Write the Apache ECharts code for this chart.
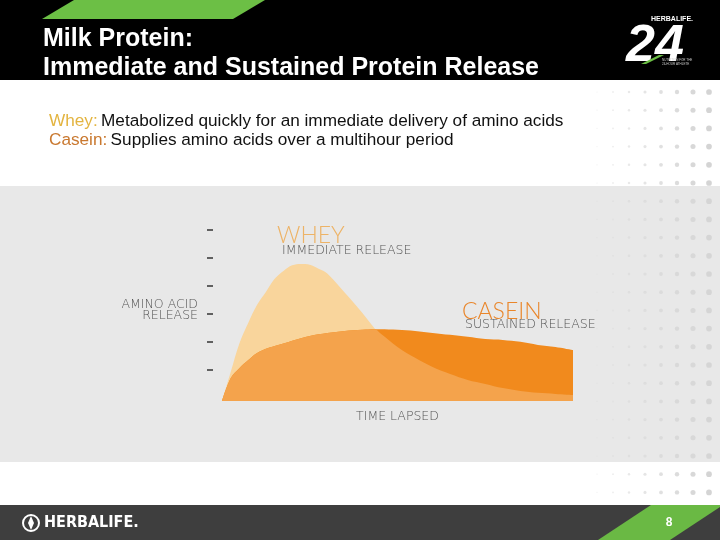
<!DOCTYPE html>
<html>
<head>
<meta charset="utf-8">
<script src="https://cdn.jsdelivr.net/npm/echarts@6/dist/echarts.min.js"></script>
<style>
html,body{margin:0;padding:0;background:#fff;}
#chart{width:720px;height:540px;}
</style>
</head>
<body>
<div id="chart"></div>
<script>
// ---- data ----
const timeSteps     = [0, 0.25, 0.5, 0.75, 1.0, 1.25, 1.5, 1.75, 2.0, 2.25, 2.5, 2.75, 3.0, 3.5, 4.0, 4.35, 4.5, 5.0, 5.5, 6.0, 6.5, 7.0, 7.5, 8.0, 8.5, 9.0, 9.5, 10];
const wheyRelease   = [-0.1, 0.94, 1.97, 2.69, 3.33, 3.79, 4.26, 4.54, 4.74, 4.79, 4.76, 4.62, 4.45, 3.76, 3.04, 2.49, 2.33, 1.83, 1.44, 1.11, 0.86, 0.65, 0.51, 0.36, 0.26, 0.19, 0.15, 0.11];
const caseinRelease = [-0.1, 0.72, 1.08, 1.36, 1.61, 1.76, 1.86, 1.95, 2.05, 2.14, 2.22, 2.28, 2.33, 2.40, 2.44, 2.46, 2.46, 2.44, 2.40, 2.33, 2.26, 2.19, 2.11, 2.08, 2.01, 1.90, 1.83, 1.72];
const yTickValues   = [1, 2, 3, 4, 5, 6];
const titleLines    = ['Milk Protein:', 'Immediate and Sustained Protein Release'];
const seriesNames   = ['WHEY', 'CASEIN'];
const seriesSubs    = ['IMMEDIATE RELEASE', 'SUSTAINED RELEASE'];
const yAxisName     = 'AMINO ACID\nRELEASE';
const xAxisName     = 'TIME LAPSED';

const wheyData    = timeSteps.map((t, i) => [t, wheyRelease[i]]);
const caseinData  = timeSteps.map((t, i) => [t, caseinRelease[i]]);
const overlapData = timeSteps.map((t, i) => [t, Math.min(wheyRelease[i], caseinRelease[i])]);

const chart = echarts.init(document.getElementById('chart'), null, {renderer: 'canvas'});

// decorative dot pattern at right
const dots = [];
for (let j = 0; j < 23; j++) {
  for (let i = 0; i < 8; i++) {
    const y = 92 + j * 18.2;
    if (y > 502) continue;
    const onGray = y > 186 && y < 462;
    dots.push({
      type: 'circle', silent: true, z: 5,
      shape: {cx: 597 + i * 16, cy: y, r: 0.6 + i * 0.32},
      style: {fill: 'rgba(170,170,170,' + ((onGray ? 0.08 : 0.16) + i * (onGray ? 0.03 : 0.05)).toFixed(2) + ')'}
    });
  }
}

const ff = '"Liberation Sans", Arial, sans-serif';
const thin = '"DejaVu Sans", sans-serif';
const SMOOTH = 0.35;

chart.setOption({
  animation: false,
  backgroundColor: '#ffffff',
  grid: [
    {left: 222, right: 147, top: 202, bottom: 139, containLabel: false},
    {left: 213, width: 1, top: 202, bottom: 139, containLabel: false}
  ],
  xAxis: [
    {
      type: 'value', min: 0, max: 10, gridIndex: 0,
      axisLine: {show: false}, axisTick: {show: false}, axisLabel: {show: false}, splitLine: {show: false},
      name: xAxisName, nameLocation: 'middle', nameGap: 9,
      nameTextStyle: {color: '#555', fontSize: 12.5, fontFamily: thin, fontWeight: 200, verticalAlign: 'top'}
    },
    {
      type: 'value', min: 0, max: 1, gridIndex: 1, show: false
    }
  ],
  yAxis: [
    {
      type: 'value', min: -0.1, max: 7, gridIndex: 0, show: false
    },
    {
      type: 'value', min: -0.1, max: 7, gridIndex: 1,
      axisLine: {show: false},
      axisTick: {show: true, length: 6, customValues: yTickValues, lineStyle: {color: '#333', width: 1.5}},
      axisLabel: {show: false},
      splitLine: {show: false},
      name: yAxisName, nameLocation: 'middle', nameRotate: 0, nameGap: 15,
      nameTextStyle: {color: '#555', fontSize: 12.5, fontFamily: thin, fontWeight: 200, align: 'right', verticalAlign: 'top', lineHeight: 11.5, padding: [-3, 0, 0, 0]}
    }
  ],
  series: [
    {
      name: 'Whey', type: 'line', data: wheyData, smooth: SMOOTH, showSymbol: false, z: 1,
      lineStyle: {width: 0}, areaStyle: {color: '#F9D59C', opacity: 1, origin: 'start'}
    },
    {
      name: 'Casein', type: 'line', data: caseinData, smooth: SMOOTH, showSymbol: false, z: 2,
      lineStyle: {width: 0}, areaStyle: {color: '#F18A1D', opacity: 1, origin: 'start'}
    },
    {
      name: 'Overlap', type: 'line', data: overlapData, smooth: SMOOTH, showSymbol: false, z: 3,
      lineStyle: {width: 0}, areaStyle: {color: '#F4A34C', opacity: 1, origin: 'start'}
    }
  ],
  graphic: [
    // gray chart band
    {type: 'rect', silent: true, z: -10, shape: {x: 0, y: 186, width: 720, height: 276}, style: {fill: '#e8e8e8'}},
    // header
    {type: 'rect', silent: true, z: 10, shape: {x: 0, y: 0, width: 720, height: 80}, style: {fill: '#000'}},
    {type: 'polygon', silent: true, z: 11, shape: {points: [[74, 0], [265, 0], [233, 19], [42, 19]]}, style: {fill: '#6CBF45'}},
    {type: 'text', silent: true, z: 12, style: {x: 43, y: 27, text: titleLines[0], fill: '#fff', font: 'bold 25px ' + ff}},
    {type: 'text', silent: true, z: 12, style: {x: 43, y: 56, text: titleLines[1], fill: '#fff', font: 'bold 25px ' + ff}},
    // Herbalife 24 logo
    {type: 'text', silent: true, z: 12, style: {x: 651, y: 16, text: 'HERBALIFE.', fill: '#fff', font: 'bold 7px ' + ff}},
    {type: 'text', silent: true, z: 12, style: {x: 626, y: 21, text: '24', fill: '#fff', font: 'italic 900 52px ' + ff}},
    {type: 'polygon', silent: true, z: 13, shape: {points: [[641, 64], [659, 55], [664, 55], [646, 64]]}, style: {fill: '#6CBF45'}},
    {type: 'text', silent: true, z: 12, style: {x: 662, y: 58, text: 'NUTRITION FOR THE\n24-HOUR ATHLETE', fill: '#ccc', font: '3px ' + ff, lineHeight: 4}},
    // subtitle lines
    {type: 'text', silent: true, z: 12, style: {x: 49, y: 113, rich: {a: {fill: '#E3B440', font: '17.2px ' + ff}, b: {fill: '#111', font: '17.2px ' + ff}}, text: '{a|Whey:} {b|Metabolized quickly for an immediate delivery of amino acids}'}},
    {type: 'text', silent: true, z: 12, style: {x: 49, y: 132, rich: {a: {fill: '#C9782F', font: '17.2px ' + ff}, b: {fill: '#111', font: '17.2px ' + ff}}, text: '{a|Casein:} {b|Supplies amino acids over a multihour period}'}},
    // series labels
    {type: 'text', silent: true, z: 12, style: {x: 277, y: 224, text: seriesNames[0], fill: '#EDB366', font: '300 23px "Lato", "DejaVu Sans", sans-serif'}},
    {type: 'text', silent: true, z: 12, style: {x: 282, y: 244, text: seriesSubs[0], fill: '#555', font: '200 12.5px ' + thin}},
    {type: 'text', silent: true, z: 12, style: {x: 462, y: 300, text: seriesNames[1], fill: '#E9862B', font: '300 23px "Lato", "DejaVu Sans", sans-serif'}},
    {type: 'text', silent: true, z: 12, style: {x: 465, y: 318, text: seriesSubs[1], fill: '#555', font: '200 12.5px ' + thin}},
    // footer
    {type: 'rect', silent: true, z: 10, shape: {x: 0, y: 505, width: 720, height: 35}, style: {fill: '#3e3e3e'}},
    {type: 'polygon', silent: true, z: 11, shape: {points: [[651, 505], [723, 505], [670, 540], [598, 540]]}, style: {fill: '#6AB944'}},
    {type: 'text', silent: true, z: 12, style: {x: 669, y: 523, text: '8', fill: '#fff', font: 'bold 12px ' + ff, align: 'center', verticalAlign: 'middle'}},
    {type: 'circle', silent: true, z: 12, shape: {cx: 31, cy: 523, r: 8}, style: {fill: 'none', stroke: '#fff', lineWidth: 2}},
    {type: 'polygon', silent: true, z: 12, shape: {points: [[31, 516], [34, 523], [31, 530], [28, 523]]}, style: {fill: '#fff'}},
    {type: 'text', silent: true, z: 12, style: {x: 44, y: 523, text: 'HERBALIFE.', fill: '#fff', font: 'bold 16px "DejaVu Sans Condensed", ' + ff, verticalAlign: 'middle'}}
  ].concat(dots)
});
</script>
</body>
</html>
